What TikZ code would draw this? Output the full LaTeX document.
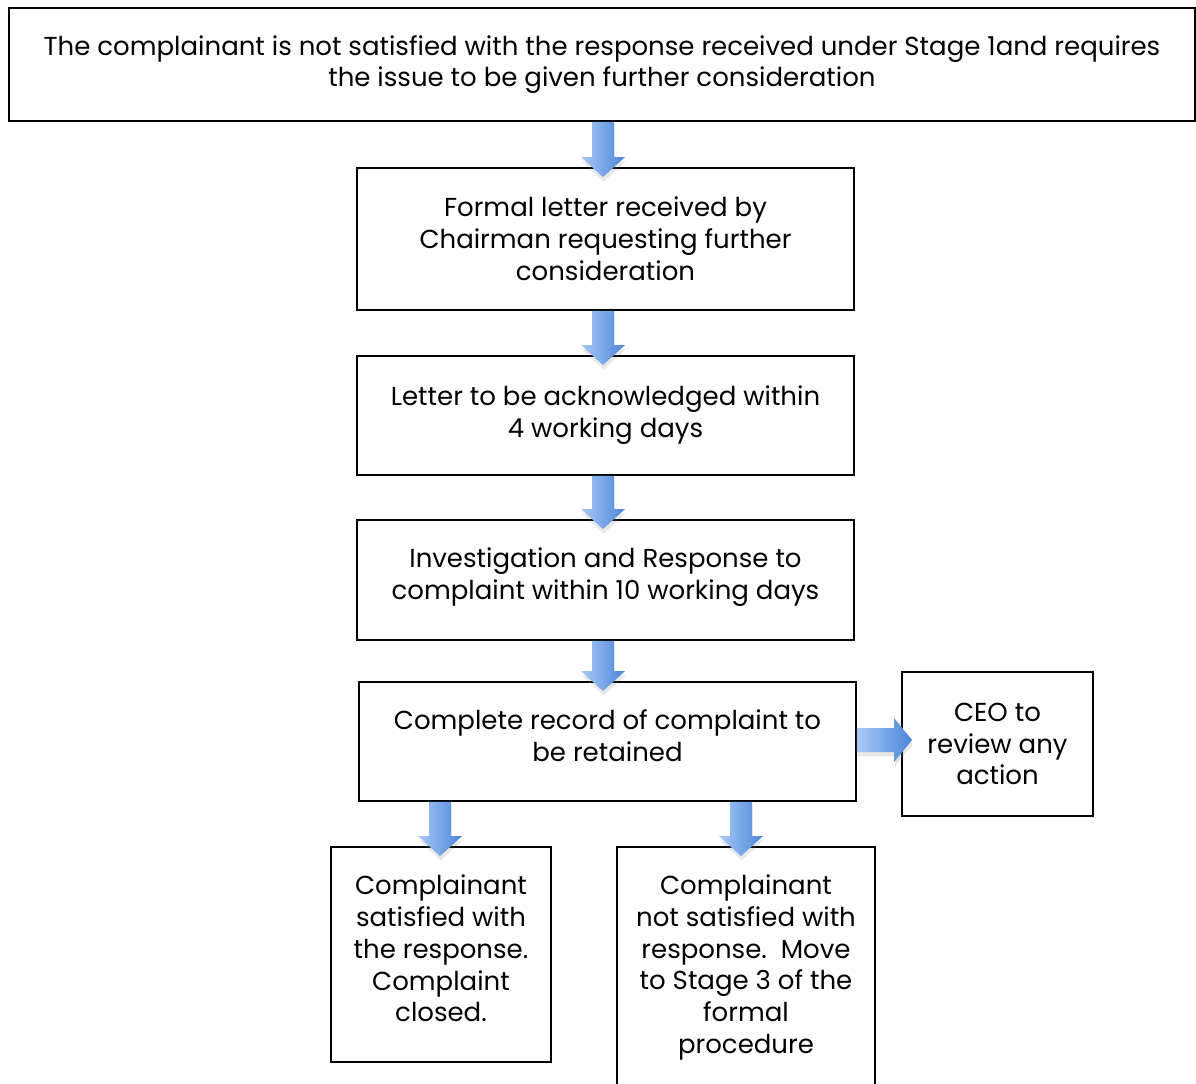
\documentclass[tikz,border=0pt]{standalone}
\usepackage{fontspec}
\setmainfont{Poppins}
\usetikzlibrary{calc,shadows}
\definecolor{alight}{HTML}{A9CAF6}
\definecolor{adark}{HTML}{4A85D8}
\tikzset{
  boxtext/.style={inner sep=0pt, align=center, font=\fontsize{14.8pt}{18.1pt}\selectfont},
  box/.style={draw=black, line width=1.1pt, boxtext},
  barrow/.style={draw=none, drop shadow={opacity=0.18, shadow xshift=0.4pt, shadow yshift=-2.5pt}},
}
\newcommand\varr[3]{%
  \path[barrow, left color=alight, right color=adark]
    ($(#1.south -| #3)+(-11,0)$) -- ($(#1.south -| #3)+(11,0)$) --
    ($(#2.north -| #3)+(11,-10)$) -- ($(#2.north -| #3)+(22,-10)$) --
    ($(#2.north -| #3)+(0,10)$) -- ($(#2.north -| #3)+(-22,-10)$) --
    ($(#2.north -| #3)+(-11,-10)$) -- cycle;}
\newcommand\harr[3]{%
  \path[barrow, left color=alight, right color=adark]
    ($(#1.east |- #3)+(0,-12)$) -- ($(#2.west |- #3)+(-7,-12)$) --
    ($(#2.west |- #3)+(-7,-22)$) -- ($(#2.west |- #3)+(11,0)$) --
    ($(#2.west |- #3)+(-7,22)$) -- ($(#2.west |- #3)+(-7,12)$) --
    ($(#1.east |- #3)+(0,12)$) -- cycle;}
\begin{document}
\begin{tikzpicture}[x=0.02cm, y=-0.02cm]
\useasboundingbox[fill=white] (0,0) rectangle (1196,1084);
\node[box, minimum width=23.72cm, minimum height=2.26cm] (top) at (602,64.5)
  {The complainant is not satisfied with the response received under Stage 1and requires\\the issue to be given further consideration};
\node[box, minimum width=9.94cm, minimum height=2.84cm] (f1) at (605.5,239)
  {Formal letter received by\\Chairman requesting further\\consideration};
\node[box, minimum width=9.94cm, minimum height=2.38cm] (f2) at (605.5,415.5)
  {Letter to be acknowledged within\\4 working days};
\node[box, minimum width=9.94cm, minimum height=2.4cm,
  label={[boxtext, yshift=0.05cm]center:Investigation and Response to\\complaint within 10 working days}] (f3) at (605.5,580) {};
\node[box, minimum width=9.94cm, minimum height=2.38cm,
  label={[boxtext, yshift=0.12cm]center:Complete record of complaint to\\be retained}] (f4) at (607.5,741.5) {};
\node[box, minimum width=3.82cm, minimum height=2.88cm] (ceo) at (997.5,744)
  {CEO to\\review any\\action};
\node[box, minimum width=4.4cm, minimum height=4.3cm,
  label={[boxtext, yshift=0.12cm]center:Complainant\\satisfied with\\the response.\\Complaint\\closed.}] (sat) at (441,954.5) {};
\node[box, minimum width=5.16cm, minimum height=4.82cm] (nsat) at (746,967.5)
  {Complainant\\not satisfied with\\response.\ \ Move\\to Stage 3 of the\\formal\\procedure};
\coordinate (ax) at (603,0);
\coordinate (bx) at (440,0);
\coordinate (cx) at (741,0);
\coordinate (hy) at (0,740);
\varr{top}{f1}{ax}
\varr{f1}{f2}{ax}
\varr{f2}{f3}{ax}
\varr{f3}{f4}{ax}
\varr{f4}{sat}{bx}
\varr{f4}{nsat}{cx}
\harr{f4}{ceo}{hy}
\end{tikzpicture}
\end{document}
